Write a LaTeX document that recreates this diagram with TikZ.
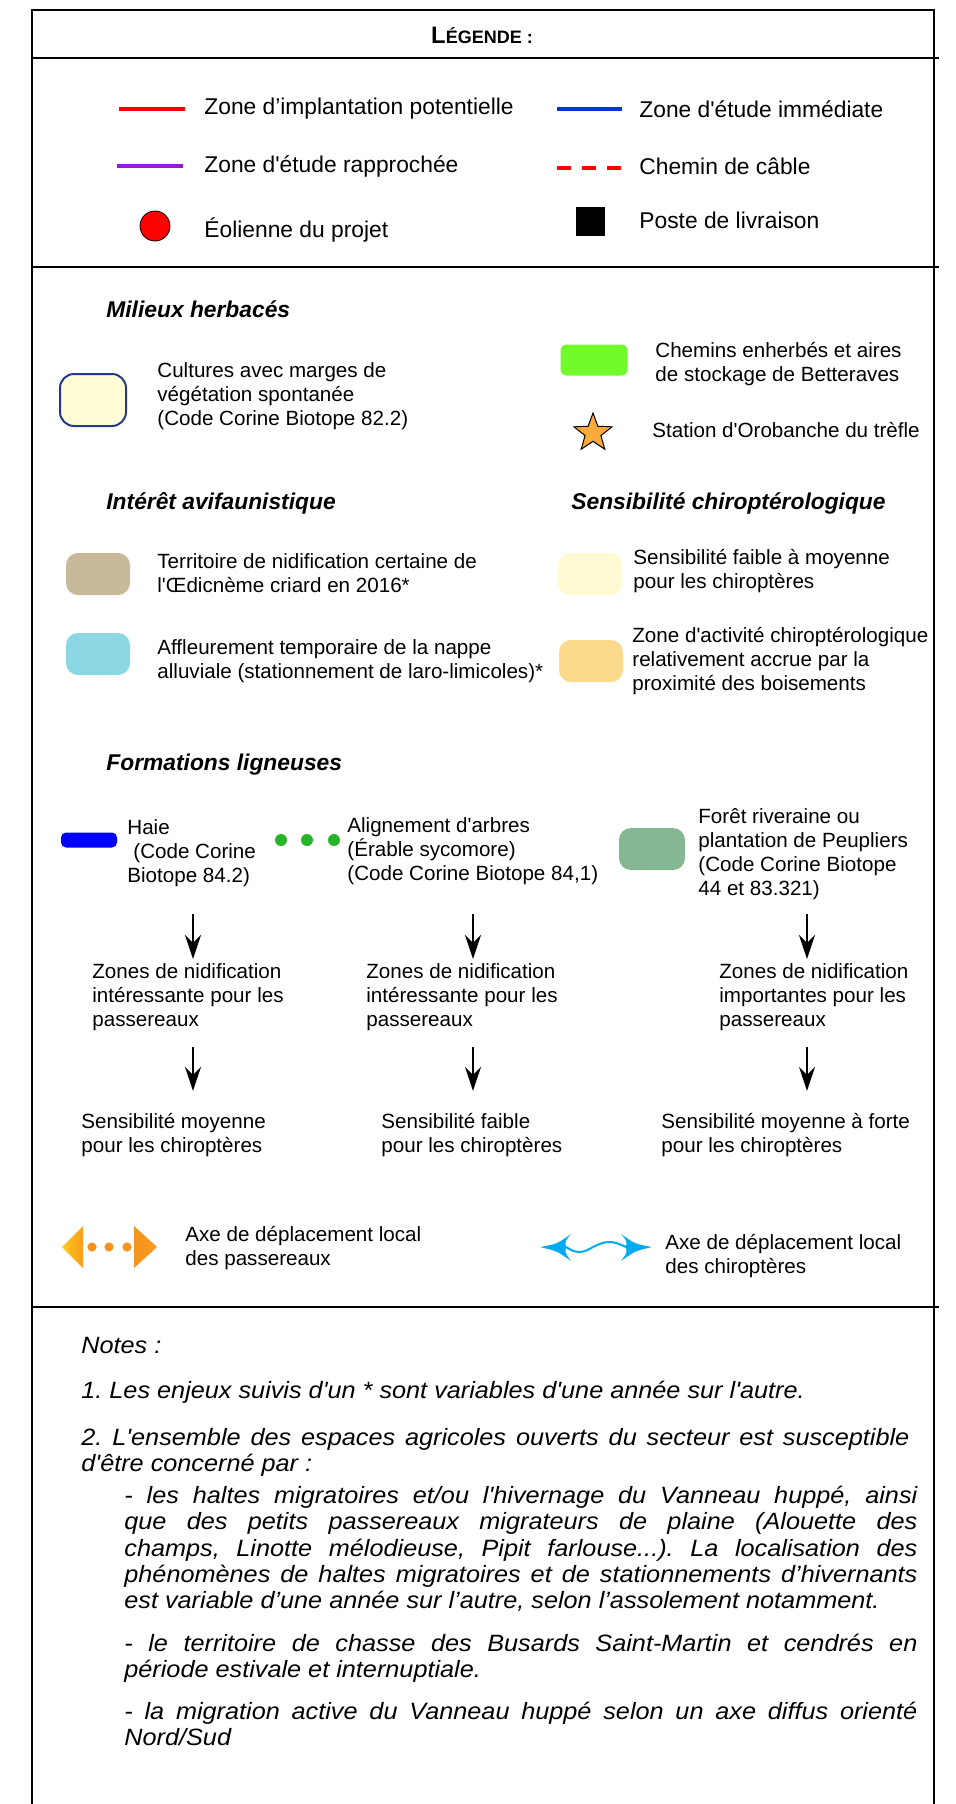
\documentclass[tikz,border=0pt]{standalone}
\usepackage{fontspec}
\setmainfont{Liberation Sans}[Ligatures=TeXOff]
\newfontfamily\notefont{Liberation Sans}[Ligatures=TeXOff,FakeStretch=1.07]
\usepackage{tikz}
\usetikzlibrary{arrows.meta,shapes.geometric}
\tolerance=9999
\hyphenpenalty=10000
\frenchspacing

\definecolor{zipred}{RGB}{255,0,0}
\definecolor{zeiblue}{RGB}{0,56,200}
\definecolor{zerpurple}{RGB}{155,24,216}
\definecolor{cultcream}{RGB}{255,252,214}
\definecolor{cultborder}{RGB}{36,58,140}
\definecolor{chemgreen}{RGB}{115,250,45}
\definecolor{starorange}{RGB}{251,170,60}
\definecolor{oeditan}{RGB}{200,185,155}
\definecolor{nappecyan}{RGB}{140,215,228}
\definecolor{faiblecream}{RGB}{255,250,210}
\definecolor{activorange}{RGB}{252,218,140}
\definecolor{haieblue}{RGB}{0,0,255}
\definecolor{arbregreen}{RGB}{40,180,40}
\definecolor{foretgreen}{RGB}{134,183,148}
\definecolor{passorange}{RGB}{247,148,30}
\definecolor{passyellow}{RGB}{255,200,30}
\definecolor{chiroblue}{RGB}{0,170,240}

\begin{document}
\begin{tikzpicture}[x=0.5pt,y=-0.5pt,>={Stealth[length=12pt,width=8pt,inset=4pt]},
    txt/.style={anchor=west,align=left,inner sep=0pt,font=\fontsize{10.3}{12}\selectfont},
    toptxt/.style={txt,font=\fontsize{11.4}{12}\selectfont},
    titre/.style={anchor=west,inner sep=0pt,font=\fontsize{11.4}{12}\selectfont\bfseries\itshape},
    note/.style={anchor=west,align=left,inner sep=0pt,font=\notefont\fontsize{11.8}{13.1}\selectfont\itshape},
    para/.style={note,text width=396.5pt,align=justify},
    swatch/.style={rectangle,rounded corners=6pt,inner sep=0pt,minimum width=32pt,minimum height=21pt},
    trait/.style={line width=2.2pt},
    cadre/.style={line width=1pt},
    flow/.style={->,line width=1.2pt}]

    % cadre
    \useasboundingbox (0,0) rectangle (956,1804);
    \draw[cadre] (32,1804) -- (32,10) -- (934,10) -- (934,1804);
    \foreach \y in {58,267,1307}
        \draw[cadre] (32,\y) -- (939,\y);

    \node[inner sep=0pt,font=\bfseries] (leg) at (482,35)
        {\fontsize{11.9}{12}\selectfont L\fontsize{9}{12}\selectfont ÉGENDE :};

    % limites et equipements
    \draw[trait,zipred] (119,109) -- (185,109);
    \node[toptxt] (zip) at (204,109) {Zone d’implantation potentielle};
    \draw[trait,zeiblue] (557,109) -- (622,109);
    \node[toptxt] (zei) at (639,109) {Zone d'étude immédiate};
    \draw[trait,zerpurple] (117,166) -- (183,166);
    \node[toptxt] (zer) at (204,166) {Zone d'étude rapprochée};
    \draw[trait,zipred,dash pattern=on 7pt off 5.5pt] (557,168) -- (622,168);
    \node[toptxt] (cab) at (639,166) {Chemin de câble};
    \node[circle,draw=black,line width=0.4pt,fill=zipred,minimum size=15pt,inner sep=0pt] (eol) at (155,226) {};
    \node[toptxt] (eoltxt) at (204,230) {Éolienne du projet};
    \node[fill=black,minimum size=14.5pt,inner sep=0pt] (poste) at (590,221) {};
    \node[toptxt] (postetxt) at (639,220) {Poste de livraison};

    % milieux herbaces
    \node[titre] (herb) at (106,309) {Milieux herbacés};
    \node[swatch,draw=cultborder,line width=1pt,fill=cultcream,minimum width=33pt,minimum height=26pt,rounded corners=7pt] (cult) at (93,400) {};
    \node[txt] (culttxt) at (157,396) {Cultures avec marges de\\végétation spontanée\\(Code Corine Biotope 82.2)};
    \node[swatch,fill=chemgreen,minimum width=33.5pt,minimum height=15.5pt,rounded corners=3pt] (chem) at (594,360) {};
    \node[txt] (chemtxt) at (655,364) {Chemins enherbés et aires\\de stockage de Betteraves};
    \node[star,star points=5,star point ratio=2.4,draw=black,line width=0.5pt,fill=starorange,minimum size=20pt,inner sep=0pt] (orob) at (593,433) {};
    \node[txt] (orobtxt) at (652,430) {Station d'Orobanche du trèfle};

    % avifaune et chiropteres
    \node[titre] (avi) at (106,503) {Intérêt avifaunistique};
    \node[titre] (chir) at (571,503) {Sensibilité chiroptérologique};
    \node[swatch,fill=oeditan] (oedi) at (98,574) {};
    \node[txt] (oeditxt) at (157,573) {Territoire de nidification certaine de\\l'Œdicnème criard en 2016*};
    \node[swatch,fill=nappecyan] (nappe) at (98,654) {};
    \node[txt] (nappetxt) at (157,661) {Affleurement temporaire de la nappe\\alluviale (stationnement de laro-limicoles)*};
    \node[swatch,fill=faiblecream] (faible) at (590,574) {};
    \node[txt] (faibletxt) at (633,571) {Sensibilité faible à moyenne\\pour les chiroptères};
    \node[swatch,fill=activorange] (activ) at (591,661) {};
    \node[txt] (activtxt) at (632,661) {Zone d'activité chiroptérologique\\relativement accrue par la\\proximité des boisements};

    % formations ligneuses
    \node[titre] (ligne) at (106,765) {Formations ligneuses};
    \node[swatch,fill=haieblue,minimum width=28pt,minimum height=7.5pt,rounded corners=2.5pt] (haie) at (89,840) {};
    \node[txt] (haietxt) at (127,853) {Haie\\\hspace{3pt}(Code Corine\\Biotope 84.2)};
    \foreach \x [count=\i] in {281,307,334}
        \node[circle,fill=arbregreen,minimum size=6pt,inner sep=0pt] (arb\i) at (\x,840) {};
    \node[txt] (arbtxt) at (347,851) {Alignement d'arbres\\(Érable sycomore)\\(Code Corine Biotope 84,1)};
    \node[swatch,fill=foretgreen,minimum width=33pt,minimum height=21pt] (foret) at (652,849) {};
    \node[txt] (forettxt) at (698,854) {Forêt riveraine ou\\plantation de Peupliers\\(Code Corine Biotope\\44 et 83.321)};

    \node[txt] (nid1) at (92,997) {Zones de nidification\\intéressante pour les\\passereaux};
    \node[txt] (nid2) at (366,997) {Zones de nidification\\intéressante pour les\\passereaux};
    \node[txt] (nid3) at (719,997) {Zones de nidification\\importantes pour les\\passereaux};
    \node[txt] (sens1) at (81,1135) {Sensibilité moyenne\\pour les chiroptères};
    \node[txt] (sens2) at (381,1135) {Sensibilité faible\\pour les chiroptères};
    \node[txt] (sens3) at (661,1135) {Sensibilité moyenne à forte\\pour les chiroptères};

    \foreach \x [count=\i] in {193,473,807} {
        \coordinate (a\i) at (\x,914);
        \coordinate (b\i) at (\x,1047);
    }
    \path[flow,shorten >=2pt] (a1) edge (a1 |- nid1.north);
    \path[flow,shorten >=2pt] (a2) edge (a2 |- nid2.north);
    \path[flow,shorten >=2pt] (a3) edge (a3 |- nid3.north);
    \path[flow,shorten >=11pt] (b1) edge (b1 |- sens1.north);
    \path[flow,shorten >=11pt] (b2) edge (b2 |- sens2.north);
    \path[flow,shorten >=11pt] (b3) edge (b3 |- sens3.north);

    % axes de deplacement
    \shade[left color=passyellow,right color=passorange!80!passyellow] (62,1247) -- (83,1226) -- (83,1268) -- cycle;
    \shade[left color=passorange,right color=passorange!90!passyellow] (134,1226) -- (157,1247) -- (134,1268) -- cycle;
    \foreach \x in {92,109,127}
        \fill[passorange] (\x,1247) circle (2.3pt);
    \node[txt] (passtxt) at (185,1248) {Axe de déplacement local\\des passereaux};

    \fill[chiroblue] (540,1247) .. controls (557,1244) .. (571,1234) .. controls (565,1241) .. (566,1247)
        .. controls (565,1253) .. (571,1261) .. controls (557,1251) .. (540,1247) -- cycle;
    \fill[chiroblue] (652,1247) .. controls (635,1244) .. (621,1234) .. controls (627,1241) .. (626,1247)
        .. controls (627,1253) .. (621,1261) .. controls (635,1251) .. (652,1247) -- cycle;
    \draw[chiroblue,line width=1pt] (566,1247) sin (579,1252) cos (593,1247) sin (609,1242) cos (626,1247);
    \node[txt] (chirotxt) at (665,1256) {Axe de déplacement local\\des chiroptères};

    % notes
    \node[note] (notes) at (81,1345) {Notes :};
    \node[note] (n1) at (81,1392) {1. Les enjeux suivis d'un * sont variables d'une année sur l'autre.};
    \node[note,text width=414pt,align=justify] (n2) at (81,1452) {2. L'ensemble des espaces agricoles ouverts du secteur est susceptible\linebreak
        d'être concerné par :};
    \node[para] (n2a) at (124,1549) {- les haltes migratoires et/ou l'hivernage du Vanneau huppé, ainsi\linebreak
        que des petits passereaux migrateurs de plaine (Alouette des\linebreak
        champs, Linotte mélodieuse, Pipit farlouse...). La localisation des\linebreak
        phénomènes de haltes migratoires et de stationnements d’hivernants\linebreak
        est variable d’une année sur l’autre, selon l’assolement notamment.};
    \node[para] (n2b) at (124,1658) {- le territoire de chasse des Busards Saint-Martin et cendrés en\linebreak
        période estivale et internuptiale.};
    \node[para] (n2c) at (124,1724) {- la migration active du Vanneau huppé selon un axe diffus orienté\linebreak
        Nord/Sud};
\end{tikzpicture}
\end{document}
